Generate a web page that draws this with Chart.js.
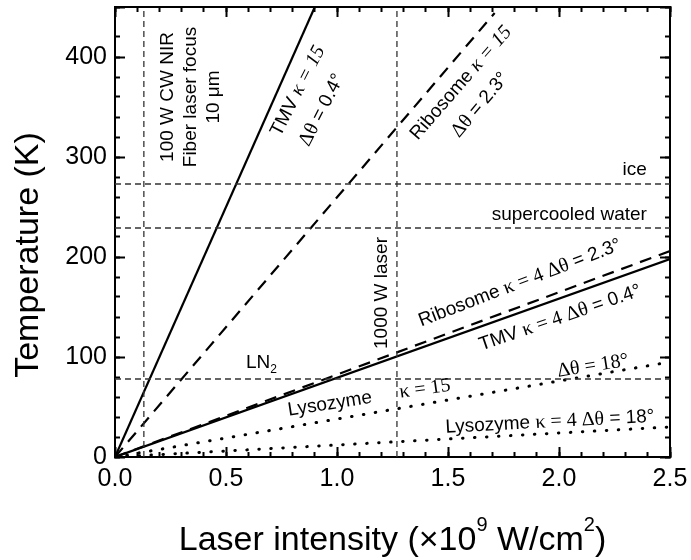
<!DOCTYPE html>
<html>
<head>
<meta charset="utf-8">
<script src="https://cdn.jsdelivr.net/npm/chart.js@4.4.0/dist/chart.umd.min.js"></script>
<style>
    body { margin: 0; background: #fff; }
    #chart { display: block; }
</style>
</head>
<body>
<canvas id="chart" width="691" height="560"></canvas>
<script>
// end points of each curve (x: 10^9 W/cm2, y: K), all start at the origin
const tmv15X = [0, 0.9];
const tmv15Y = [0, 450];
const rib15X = [0, 1.71];
const rib15Y = [0, 444];
const tmv4X = [0, 2.5];
const tmv4Y = [0, 198];
const rib4X = [0, 2.5];
const rib4Y = [0, 206];
const lys15X = [0, 2.5];
const lys15Y = [0, 95];
const lys4X = [0, 2.5];
const lys4Y = [0, 30];

// reference levels
const levelsY = [273, 229, 78];      // ice, supercooled water, LN2
const laserX = [0.13, 1.27];        // 100 W fiber focus, 1000 W laser

const xRange = [0, 2.5];
const yRange = [0, 450];

const SANS = '"Liberation Sans", Arial, Helvetica, sans-serif';
const SERIF = '"Liberation Serif", "Times New Roman", serif';
const fonts = {
    s: '19px ' + SANS,
    g: '20px ' + SERIF,
    gi: 'italic 20px ' + SERIF,
    sub: '12px ' + SANS,
    t: '34px ' + SANS,
    sup: '20px ' + SANS
};
const shifts = { sub: 7, sup: -16 };

// text labels: data coords of the label centre, rotation in degrees
const notes = [
    { x: 0.239, y: 360, a: -90, parts: [['100 W CW NIR', 's']] },
    { x: 0.342, y: 360, a: -90, parts: [['Fiber laser focus', 's']] },
    { x: 0.446, y: 360, a: -90, parts: [['10 \u03bcm', 's']] },
    { x: 0.824, y: 366, a: -63, parts: [['TMV ', 's'], ['\u03ba = 15', 'gi']] },
    { x: 0.932, y: 347, a: -63, parts: [['\u0394\u03b8', 'g'], [' = 0.4\u00b0', 's']] },
    { x: 1.559, y: 374, a: -49, parts: [['Ribosome ', 's'], ['\u03ba = 15', 'gi']] },
    { x: 1.644, y: 352, a: -50, parts: [['\u0394\u03b8', 'g'], [' = 2.3\u00b0', 's']] },
    { x: 2.396, y: 287, a: 0, align: 'right', parts: [['ice', 's']] },
    { x: 2.396, y: 242, a: 0, align: 'right', parts: [['supercooled water', 's']] },
    { x: 1.203, y: 164, a: -90, parts: [['1000 W laser', 's']] },
    { x: 1.824, y: 174, a: -21, parts: [['Ribosome ', 's'], ['\u03ba = 4 \u0394\u03b8', 'g'], [' = 2.3\u00b0', 's']] },
    { x: 2.005, y: 139, a: -19, parts: [['TMV ', 's'], ['\u03ba = 4 \u0394\u03b8', 'g'], [' = 0.4\u00b0', 's']] },
    { x: 0.66, y: 94, a: 0, parts: [['LN', 's'], ['2', 'sub']] },
    { x: 0.968, y: 53, a: -9, parts: [['Lysozyme', 's']] },
    { x: 1.396, y: 68, a: -8, parts: [['\u03ba = 15', 'g']] },
    { x: 2.153, y: 91, a: -9, parts: [['\u0394\u03b8 = 18\u00b0', 'g']] },
    { x: 1.959, y: 35, a: -3, parts: [['Lysozyme ', 's'], ['\u03ba = 4 \u0394\u03b8', 'g'], [' = 18\u00b0', 's']] }
];

function pts(xs, ys) {
    return xs.map((x, i) => ({ x: x, y: ys[i] }));
}

function drawParts(ctx, parts, align) {
    let w = 0;
    parts.forEach(p => { ctx.font = fonts[p[1]]; w += ctx.measureText(p[0]).width; });
    let x = align === 'right' ? -w : -w / 2;
    parts.forEach(p => {
        ctx.font = fonts[p[1]];
        ctx.fillText(p[0], x, shifts[p[1]] || 0);
        x += ctx.measureText(p[0]).width;
    });
}

const notesPlugin = {
    id: 'notes',
    afterDraw(chart) {
        const ctx = chart.ctx;
        const xs = chart.scales.x, ys = chart.scales.y;
        const area = chart.chartArea;
        ctx.save();
        ctx.fillStyle = '#000';
        ctx.textBaseline = 'middle';
        ctx.textAlign = 'left';
        notes.forEach(n => {
            ctx.save();
            ctx.translate(xs.getPixelForValue(n.x), ys.getPixelForValue(n.y));
            ctx.rotate(n.a * Math.PI / 180);
            drawParts(ctx, n.parts, n.align);
            ctx.restore();
        });

        // axis titles
        ctx.save();
        ctx.translate((area.left + area.right) / 2, 541);
        drawParts(ctx, [['Laser intensity (\u00d710', 't'], ['9', 'sup'], [' W/cm', 't'], ['2', 'sup'], [')', 't']]);
        ctx.restore();
        ctx.save();
        ctx.translate(29, 255);
        ctx.rotate(-Math.PI / 2);
        drawParts(ctx, [['Temperature (K)', 't']]);
        ctx.restore();
        ctx.restore();
    }
};

const datasets = [];
levelsY.forEach(v => {
    datasets.push({ data: pts(xRange, [v, v]), borderColor: '#333', borderWidth: 1.3, borderDash: [6, 4] });
});
laserX.forEach(v => {
    datasets.push({ data: pts([v, v], yRange), borderColor: '#333', borderWidth: 1.3, borderDash: [6, 4] });
});
datasets.push({ data: pts(tmv15X, tmv15Y), borderColor: '#000', borderWidth: 2.2 });
datasets.push({ data: pts(rib15X, rib15Y), borderColor: '#000', borderWidth: 2.2, borderDash: [12, 8] });
datasets.push({ data: pts(tmv4X, tmv4Y), borderColor: '#000', borderWidth: 2.2 });
datasets.push({ data: pts(rib4X, rib4Y), borderColor: '#000', borderWidth: 2.2, borderDash: [12, 8] });
datasets.push({ data: pts(lys15X, lys15Y), borderColor: '#000', borderWidth: 3, borderDash: [0.5, 11.5], borderCapStyle: 'round' });
datasets.push({ data: pts(lys4X, lys4Y), borderColor: '#000', borderWidth: 3, borderDash: [0.5, 11.5], borderCapStyle: 'round' });
datasets.forEach(d => {
    d.showLine = true;
    d.pointRadius = 0;
    d.fill = false;
    d.xAxisID = 'x';
    d.yAxisID = 'y';
});

// one axis per side for major ticks (with border) and one for minor ticks
function axis(pos, range, step, len, weight, size, labelFn) {
    return {
        type: 'linear',
        position: pos,
        min: range[0],
        max: range[1],
        weight: weight,
        afterFit: s => {
            if (s.isHorizontal()) s.height = size; else s.width = size;
            s.paddingLeft = s.paddingRight = s.paddingTop = s.paddingBottom = 0;
        },
        border: { display: weight === 1, color: '#000', width: 2 },
        grid: { drawOnChartArea: false, drawTicks: true, tickLength: len, tickColor: '#000', tickWidth: 2 },
        ticks: {
            display: !!labelFn,
            stepSize: step,
            autoSkip: false,
            maxRotation: 0,
            color: '#000',
            padding: pos === 'left' ? 18 : 17,
            font: { family: SANS, size: 25 },
            callback: labelFn || (() => '')
        }
    };
}

Chart.defaults.font.family = SANS;

new Chart(document.getElementById('chart'), {
    type: 'scatter',
    data: { datasets: datasets },
    options: {
        responsive: false,
        animation: false,
        layout: { padding: 0 },
        plugins: { legend: { display: false }, tooltip: { enabled: false } },
        scales: {
            x: axis('bottom', xRange, 0.5, -10, 1, 103, v => v.toFixed(1)),
            xm: axis('bottom', xRange, 0.1, -5, 0, 0),
            x2: axis('top', xRange, 0.5, -10, 1, 7),
            x2m: axis('top', xRange, 0.1, -5, 0, 0),
            y: axis('left', yRange, 100, -10, 1, 115, v => (v % 100 === 0 ? String(v) : '')),
            ym: axis('left', yRange, 20, -5, 0, 0),
            y2: axis('right', yRange, 100, -10, 1, 21),
            y2m: axis('right', yRange, 20, -5, 0, 0)
        }
    },
    plugins: [notesPlugin]
});
</script>
</body>
</html>
